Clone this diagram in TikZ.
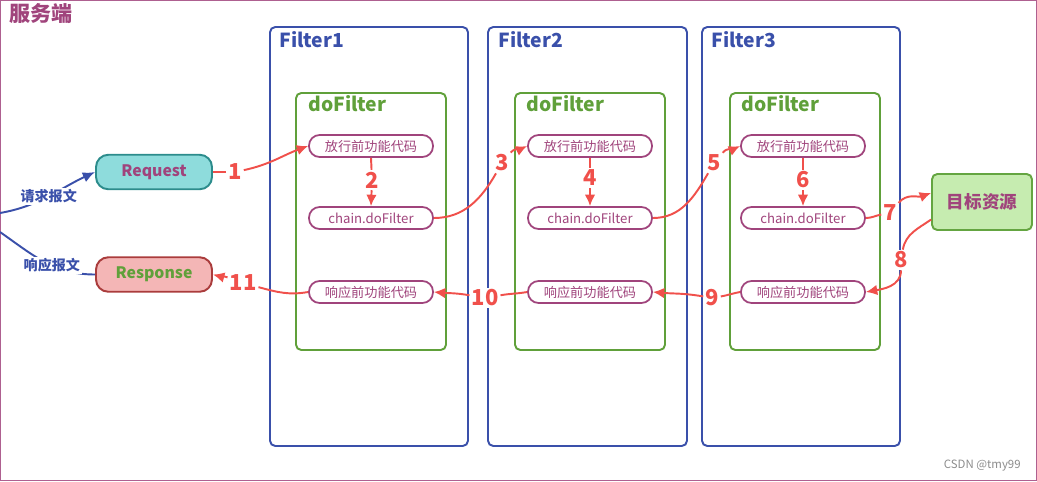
\documentclass[tikz,border=0pt]{standalone}
\usepackage{fontspec}
\setmainfont{Noto Sans CJK SC}
\usetikzlibrary{positioning,arrows.meta}
\definecolor{fpurple}{RGB}{160,68,124}
\definecolor{fblue}{RGB}{58,80,170}
\definecolor{fgreen}{RGB}{96,160,58}
\definecolor{fred}{RGB}{240,80,75}
\definecolor{reqfill}{RGB}{142,220,220}
\definecolor{reqdraw}{RGB}{44,140,140}
\definecolor{resfill}{RGB}{244,182,182}
\definecolor{resdraw}{RGB}{170,60,60}
\definecolor{tgtfill}{RGB}{198,236,176}
\definecolor{tgtdraw}{RGB}{100,165,65}
\tikzset{font=\small}
\tikzset{
	filterbox/.style={draw=fblue, line width=1.1pt, rounded corners=3pt},
	dobox/.style={draw=fgreen, line width=1.1pt, rounded corners=3pt},
	boxtitle/.style={anchor=west, inner sep=0pt, font=\bfseries\fontsize{11}{13}\selectfont},
	codebox/.style={draw=fpurple, line width=1pt, fill=white, rounded corners=6pt,
		minimum width=2.48cm, minimum height=0.44cm, inner sep=1pt, text=fpurple,
		font=\fontsize{7.5}{9}\selectfont},
	endbox/.style={line width=1.1pt, rounded corners=7pt, minimum width=2.32cm,
		minimum height=0.69cm, font=\bfseries\fontsize{9}{11}\selectfont},
	stepno/.style={fill=white, inner sep=1pt, text=fred, font=\bfseries\fontsize{12.5}{14}\selectfont},
	flowline/.style={draw=fred, line width=1.1pt},
	flow/.style={flowline, -{Latex[length=6.5pt,width=6pt]}},
	msg/.style={draw=fblue, line width=1.1pt},
	msglabel/.style={fill=white, inner sep=1pt, text=fblue, font=\bfseries\fontsize{8}{10}\selectfont},
}

\begin{document}
\begin{tikzpicture}[x=0.02cm, y=0.02cm]
	\useasboundingbox (0,0) rectangle (1037,-481);
	\draw[fpurple!85, line width=0.8pt] (0.5,-0.5) rectangle (1036.5,-480.5);
	\node[anchor=west, inner sep=0pt, text=fpurple, font=\bfseries\fontsize{12}{14}\selectfont] (title) at (9,-14) {服务端};

	% filters
	\draw[filterbox] (270,-27) rectangle (468,-446);
	\draw[filterbox] (488,-27) rectangle (687,-446);
	\draw[filterbox] (702,-27) rectangle (900,-446);
	\node[boxtitle, text=fblue] (f1) at (279,-40) {Filter1};
	\node[boxtitle, text=fblue] (f2) at (498,-40) {Filter2};
	\node[boxtitle, text=fblue] (f3) at (711,-40) {Filter3};

	\draw[dobox] (296,-93) rectangle (446,-350);
	\draw[dobox] (515,-93) rectangle (665,-350);
	\draw[dobox] (730,-93) rectangle (880,-350);
	\node[boxtitle, text=fgreen] (d1) at (308,-104) {doFilter};
	\node[boxtitle, text=fgreen] (d2) at (526,-104) {doFilter};
	\node[boxtitle, text=fgreen] (d3) at (741,-104) {doFilter};

	\node[codebox] (pre1) at (371,-146) {放行前功能代码};
	\node[codebox] (chain1) at (371,-218) {chain.doFilter};
	\node[codebox] (resp1) at (371,-292) {响应前功能代码};
	\node[codebox] (pre2) at (590,-146) {放行前功能代码};
	\node[codebox] (chain2) at (590,-218) {chain.doFilter};
	\node[codebox] (resp2) at (590,-292) {响应前功能代码};
	\node[codebox] (pre3) at (803,-146) {放行前功能代码};
	\node[codebox] (chain3) at (803,-218) {chain.doFilter};
	\node[codebox] (resp3) at (803,-292) {响应前功能代码};

	\node[endbox, draw=reqdraw, fill=reqfill, text=fpurple] (req) at (154,-172) {Request};
	\node[endbox, draw=resdraw, fill=resfill, text=fgreen] (res) at (154,-274.5) {Response};
	\node[draw=tgtdraw, fill=tgtfill, line width=1.1pt, rounded corners=3pt, minimum width=2cm,
		minimum height=1.12cm, text=fpurple, font=\bfseries\fontsize{10}{12}\selectfont] (target) at (982,-202) {目标资源};

	% client side
	\coordinate (cin) at (0,-213);
	\coordinate (cout) at (0,-232);
	\draw[msg, -{Latex[length=7pt,width=6pt]}] (cin) to[out=10, in=205] node[msglabel] (qlab) {请求报文} (req.west);
	\draw[msg] (cout) to[out=-35, in=180] node[msglabel, pos=0.58] (plab) {响应报文} (res.west);

	% steps
	\node[stepno] (s1) at (235,-172) {1};
	\node[stepno] (s2) at (372,-180) {2};
	\node[stepno] (s3) at (502,-163) {3};
	\node[stepno] (s4) at (590,-178) {4};
	\node[stepno] (s5) at (714,-163) {5};
	\node[stepno] (s6) at (803,-180) {6};
	\node[stepno] (s7) at (890,-213) {7};
	\node[stepno] (s8) at (901,-260) {8};
	\node[stepno] (s9) at (712,-298) {9};
	\node[stepno] (s10) at (485,-298) {10};
	\node[stepno] (s11) at (243,-283) {11};

	\draw[flowline] (req.east) -- (s1);
	\draw[flow] (s1) to[out=12, in=200] (pre1.west);
	\draw[flowline] (pre1.south) -- (s2);
	\draw[flow] (s2) -- (chain1.north);
	\draw[flowline] (chain1.east) to[out=0, in=240] (s3);
	\draw[flow] (s3) to[out=50, in=205] (pre2.west);
	\draw[flowline] (pre2.south) -- (s4);
	\draw[flow] (s4) -- (chain2.north);
	\draw[flowline] (chain2.east) to[out=0, in=240] (s5);
	\draw[flow] (s5) to[out=50, in=205] (pre3.west);
	\draw[flowline] (pre3.south) -- (s6);
	\draw[flow] (s6) -- (chain3.north);
	\draw[flowline] (chain3.east) to[out=0, in=190] (s7);
	\draw[flow] (s7) to[out=50, in=200] (target.170);
	\draw[flowline] (target.199) to[out=215, in=80] (s8);
	\draw[flow] (s8) to[out=270, in=10] (resp3.east);
	\draw[flowline] (resp3.west) to[out=190, in=10] (s9);
	\draw[flow] (s9) to[out=170, in=-5] (resp2.east);
	\draw[flowline] (resp2.west) to[out=190, in=10] (s10);
	\draw[flow] (s10) to[out=170, in=-5] (resp1.east);
	\draw[flowline] (resp1.west) to[out=190, in=-15] (s11);
	\draw[flow] (s11) to[out=160, in=-15] (res.east);

	\node[anchor=east, inner sep=0pt, text=gray!90, font=\fontsize{6.5}{8}\selectfont] (mark) at (1021,-466) {CSDN @tmy99};
\end{tikzpicture}
\end{document}
